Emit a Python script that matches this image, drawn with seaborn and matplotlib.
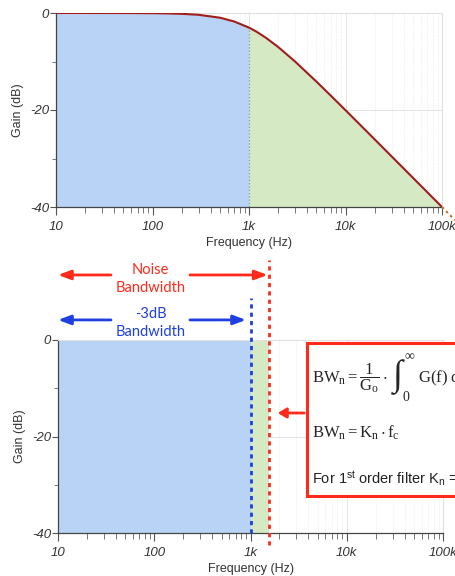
import numpy as np
import matplotlib
matplotlib.use("Agg")
import matplotlib.pyplot as plt
import matplotlib.ticker as mticker
from matplotlib.patches import Rectangle, FancyArrowPatch
import seaborn as sns

# frekans cevabi (okunan degerler) - 1. derece alcak geciren, fc = 1 kHz
freq = [10, 20, 50, 100, 150, 200, 300, 500, 700, 1000, 1200, 1500, 2000,
        3000, 5000, 7000, 10000, 20000, 50000, 100000]
gain = [0.0, 0.0, -0.01, -0.04, -0.1, -0.17, -0.37, -0.97, -1.74, -3.01,
        -3.87, -5.12, -6.99, -10.0, -14.15, -16.99, -20.04, -26.03, -33.98, -40.0]
# 100k sonrasi noktali devam
ext_freq = [100000, 136000]
ext_gain = [-40.0, -42.7]

fc = 1000          # -3dB bant genisligi
f_noise = 1570     # gurultu bant genisligi (1.57 * fc)

xticks = [10, 100, 1000, 10000, 100000]
xtick_labels = ["10", "100", "1k", "10k", "100k"]
yticks = [0, -20, -40]
ytick_labels = ["0", "-20", "-40"]

blue_fill = "#b8d3f6"
green_fill = "#d5eac4"
curve_col = "#a11d1d"
red = "#ff2a1a"
blue = "#1f3fe0"

sns.set_style("ticks")
plt.rcParams["font.family"] = ["Liberation Sans", "DejaVu Sans"]
plt.rcParams["font.style"] = "italic"   # tik etiketleri italik olsun (sonra normale donuyor)
plt.rcParams["mathtext.fontset"] = "custom"
plt.rcParams["mathtext.rm"] = "Liberation Serif:style=normal"
plt.rcParams["mathtext.it"] = "Liberation Serif:style=italic"
plt.rcParams["mathtext.sf"] = "Liberation Sans:style=normal"
plt.rcParams["mathtext.fallback"] = "stix"

fig = plt.figure(figsize=(4.55, 5.76), dpi=100)
ax1 = fig.add_axes([56 / 455, 1 - 207 / 576, (442 - 56) / 455, 194 / 576])
ax2 = fig.add_axes([58 / 455, 1 - 533 / 576, (443 - 58) / 455, 193 / 576])


def fx(px):
    return px / 455


def fy(py):
    return 1 - py / 576


def style_axis(ax):
    ax.set_xscale("log")
    ax.set_xlim(10, 100000)
    ax.set_ylim(-40, 0)
    ax.xaxis.set_major_locator(mticker.FixedLocator(xticks))
    ax.xaxis.set_major_formatter(mticker.FixedFormatter(xtick_labels))
    ax.yaxis.set_major_locator(mticker.FixedLocator(yticks))
    ax.yaxis.set_major_formatter(mticker.FixedFormatter(ytick_labels))
    ax.xaxis.set_minor_locator(mticker.LogLocator(base=10, subs=np.arange(2, 10)))
    ax.xaxis.set_minor_formatter(mticker.NullFormatter())
    ax.yaxis.set_minor_locator(mticker.MultipleLocator(10))
    ax.tick_params(axis="x", which="major", length=6, width=0.8, color="#555555", pad=4,
                   labelsize=9.5, labelcolor="#333333")
    ax.tick_params(axis="x", which="minor", length=4, width=0.7, color="#777777")
    ax.tick_params(axis="y", which="major", length=4, width=0.8, color="#555555", pad=1,
                   labelsize=9.5, labelcolor="#333333")
    ax.tick_params(axis="y", which="minor", length=3, width=0.7, color="#777777")
    ax.grid(True, which="major", color="#e4e4e4", lw=0.7)
    ax.grid(True, which="minor", axis="x", color="#e8e8e8", lw=0.6, ls=":")
    for s in ["top", "right"]:
        ax.spines[s].set_visible(True)
        ax.spines[s].set_color("#e0e0e0")
    for s in ["left", "bottom"]:
        ax.spines[s].set_color("#444444")
        ax.spines[s].set_linewidth(0.9)
    ax.set_xlabel("Frequency (Hz)", fontsize=9, color="#333333", labelpad=3, fontstyle="normal")
    ax.set_ylabel("Gain (dB)", fontsize=9, color="#333333", labelpad=4, fontstyle="normal")


# ---- ust grafik: gercek cevap ----
style_axis(ax1)
freq_arr = np.array(freq)
gain_arr = np.array(gain)
lo = freq_arr <= fc
hi = freq_arr >= fc
ax1.fill_between(freq_arr[lo], gain_arr[lo], -40, color=blue_fill, lw=0, zorder=1)
ax1.fill_between(freq_arr[hi], gain_arr[hi], -40, color=green_fill, lw=0, zorder=1)
ax1.vlines(fc, -40, gain[freq.index(fc)], colors="#8899aa", linestyles=":", lw=0.9, zorder=2)
sns.lineplot(x=freq, y=gain, ax=ax1, color=curve_col, lw=1.5, zorder=3)
ax1.plot(ext_freq, ext_gain, color="#d2691e", lw=1.5, ls=(0, (1.2, 1.6)), clip_on=False, zorder=3)
ax1.set_ylim(-40, 0)
ax1.set_xlim(10, 100000)

# ---- alt grafik: ideal (tugla duvar) ----
style_axis(ax2)
ax2.axvspan(10, fc, color=blue_fill, lw=0, zorder=1)
ax2.axvspan(fc, f_noise, color=green_fill, lw=0, zorder=1)
ax2.axvline(fc, ymin=0, ymax=1.218, color=blue, ls=(0, (1.5, 1.5)), lw=2, clip_on=False, zorder=4)
ax2.axvline(f_noise, ymin=-0.062, ymax=1.415, color=red, ls=(0, (1.5, 1.5)), lw=2, clip_on=False, zorder=4)

# tikler italik olarak olussun, sonra stil normale
fig.canvas.draw()
plt.rcParams["font.style"] = "normal"

trans = ax2.get_xaxis_transform()
arrow_kw = dict(arrowstyle="-|>,head_length=0.75,head_width=0.28", lw=2.0, shrinkA=0, shrinkB=0)

# gurultu bant genisligi oklari
ax2.annotate("", xy=(10, 1.337), xytext=(35.5, 1.337), xycoords=trans, textcoords=trans,
             arrowprops=dict(color=red, **arrow_kw), annotation_clip=False)
ax2.annotate("", xy=(f_noise * 0.96, 1.337), xytext=(235, 1.337), xycoords=trans, textcoords=trans,
             arrowprops=dict(color=red, **arrow_kw), annotation_clip=False)
ax2.text(92, 1.316, "Noise\nBandwidth", transform=trans, color=red, fontsize=10.5,
         ha="center", va="center", family=["Lato", "DejaVu Sans"], fontstyle="normal",
         linespacing=1.4)

# -3dB bant genisligi oklari
ax2.annotate("", xy=(10, 1.104), xytext=(35.5, 1.104), xycoords=trans, textcoords=trans,
             arrowprops=dict(color=blue, **arrow_kw), annotation_clip=False)
ax2.annotate("", xy=(898, 1.104), xytext=(235, 1.104), xycoords=trans, textcoords=trans,
             arrowprops=dict(color=blue, **arrow_kw), annotation_clip=False)
ax2.text(92, 1.088, "-3dB\nBandwidth", transform=trans, color=blue, fontsize=10.5,
         ha="center", va="center", family=["Lato", "DejaVu Sans"], fontstyle="normal",
         linespacing=1.4)

# formul kutusu
box = Rectangle((fx(307), fy(496)), 0.6, (496 - 343) / 576, transform=fig.transFigure,
                facecolor="white", edgecolor=red, lw=2.2, zorder=10)
fig.patches.append(box)
t1 = fig.text(fx(312), fy(378), r"$\mathrm{BW_n} = \dfrac{1}{\mathrm{G_o}}\cdot$",
              fontsize=12, va="center", ha="left", zorder=11)
fig.canvas.draw()
x_end = t1.get_window_extent().x1
fig.text(fx(x_end + 3), fy(377), r"$\int$", fontsize=26, va="center", ha="left", zorder=11)
fig.text(fx(x_end + 16), fy(355), r"$\infty$", fontsize=10, va="center", ha="left", zorder=11)
fig.text(fx(x_end + 14), fy(397), r"$\mathrm{0}$", fontsize=10, va="center", ha="left", zorder=11)
fig.text(fx(x_end + 30), fy(378), r"$\mathrm{G(f)\ df}$", fontsize=12, va="center", ha="left",
         zorder=11)
fig.text(fx(312), fy(433), r"$\mathrm{BW_n} = \mathrm{K_n}\cdot\mathrm{f_c}$",
         fontsize=12, va="center", ha="left", zorder=11)
fig.text(fx(312), fy(478), r"For 1$^{\mathsf{st}}$ order filter K$_{\mathsf{n}}$ = 1.57",
         fontsize=10.5, va="center", ha="left", color="#222222", zorder=11)
fig.add_artist(FancyArrowPatch(
    (fx(307), fy(413)), (fx(275), fy(413)), transform=fig.transFigure,
    arrowstyle="-|>,head_length=5,head_width=3", color=red, lw=2, mutation_scale=1, zorder=11))

fig.savefig("out.png", dpi=100)
